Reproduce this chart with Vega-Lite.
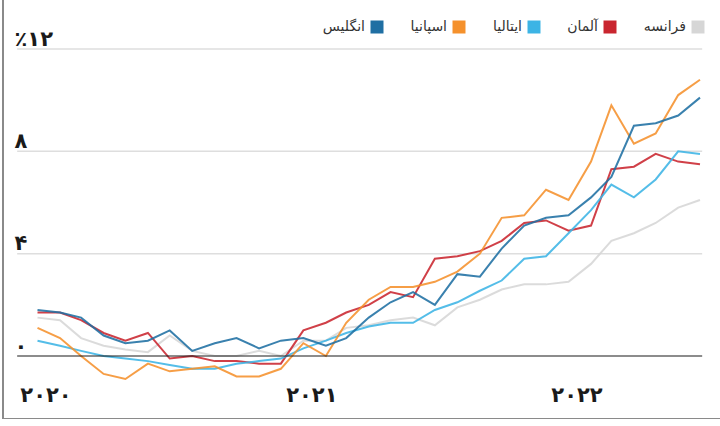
{
  "$schema": "https://vega.github.io/schema/vega-lite/v6.json",
  "width": 719,
  "height": 421,
  "autosize": {"type": "none"},
  "padding": {"left": 3, "top": -2, "right": 0, "bottom": 0},
  "background": "white",
  "config": {
    "view": {"stroke": "#8a8a8a", "strokeWidth": 2},
    "font": "DejaVu Sans"
  },
  "datasets": {
    "grid": [{"v": 4}, {"v": 8}, {"v": 12}],
    "zero": [{"v": 0}],
    "cpi": [
      {"date": "2020-01-01", "country": "فرانسه", "value": 1.5},
      {"date": "2020-02-01", "country": "فرانسه", "value": 1.4},
      {"date": "2020-03-01", "country": "فرانسه", "value": 0.7},
      {"date": "2020-04-01", "country": "فرانسه", "value": 0.4},
      {"date": "2020-05-01", "country": "فرانسه", "value": 0.25},
      {"date": "2020-06-01", "country": "فرانسه", "value": 0.15},
      {"date": "2020-07-01", "country": "فرانسه", "value": 0.8},
      {"date": "2020-08-01", "country": "فرانسه", "value": 0.2},
      {"date": "2020-09-01", "country": "فرانسه", "value": 0.0},
      {"date": "2020-10-01", "country": "فرانسه", "value": 0.0},
      {"date": "2020-11-01", "country": "فرانسه", "value": 0.2},
      {"date": "2020-12-01", "country": "فرانسه", "value": 0.0},
      {"date": "2021-01-01", "country": "فرانسه", "value": 0.6},
      {"date": "2021-02-01", "country": "فرانسه", "value": 0.6},
      {"date": "2021-03-01", "country": "فرانسه", "value": 1.1},
      {"date": "2021-04-01", "country": "فرانسه", "value": 1.2},
      {"date": "2021-05-01", "country": "فرانسه", "value": 1.4},
      {"date": "2021-06-01", "country": "فرانسه", "value": 1.5},
      {"date": "2021-07-01", "country": "فرانسه", "value": 1.2},
      {"date": "2021-08-01", "country": "فرانسه", "value": 1.9},
      {"date": "2021-09-01", "country": "فرانسه", "value": 2.2},
      {"date": "2021-10-01", "country": "فرانسه", "value": 2.6},
      {"date": "2021-11-01", "country": "فرانسه", "value": 2.8},
      {"date": "2021-12-01", "country": "فرانسه", "value": 2.8},
      {"date": "2022-01-01", "country": "فرانسه", "value": 2.9},
      {"date": "2022-02-01", "country": "فرانسه", "value": 3.6},
      {"date": "2022-03-01", "country": "فرانسه", "value": 4.5},
      {"date": "2022-04-01", "country": "فرانسه", "value": 4.8},
      {"date": "2022-05-01", "country": "فرانسه", "value": 5.2},
      {"date": "2022-06-01", "country": "فرانسه", "value": 5.8},
      {"date": "2022-07-01", "country": "فرانسه", "value": 6.1},

      {"date": "2020-01-01", "country": "آلمان", "value": 1.7},
      {"date": "2020-02-01", "country": "آلمان", "value": 1.7},
      {"date": "2020-03-01", "country": "آلمان", "value": 1.4},
      {"date": "2020-04-01", "country": "آلمان", "value": 0.9},
      {"date": "2020-05-01", "country": "آلمان", "value": 0.6},
      {"date": "2020-06-01", "country": "آلمان", "value": 0.9},
      {"date": "2020-07-01", "country": "آلمان", "value": -0.1},
      {"date": "2020-08-01", "country": "آلمان", "value": 0.0},
      {"date": "2020-09-01", "country": "آلمان", "value": -0.2},
      {"date": "2020-10-01", "country": "آلمان", "value": -0.2},
      {"date": "2020-11-01", "country": "آلمان", "value": -0.3},
      {"date": "2020-12-01", "country": "آلمان", "value": -0.3},
      {"date": "2021-01-01", "country": "آلمان", "value": 1.0},
      {"date": "2021-02-01", "country": "آلمان", "value": 1.3},
      {"date": "2021-03-01", "country": "آلمان", "value": 1.7},
      {"date": "2021-04-01", "country": "آلمان", "value": 2.0},
      {"date": "2021-05-01", "country": "آلمان", "value": 2.5},
      {"date": "2021-06-01", "country": "آلمان", "value": 2.3},
      {"date": "2021-07-01", "country": "آلمان", "value": 3.8},
      {"date": "2021-08-01", "country": "آلمان", "value": 3.9},
      {"date": "2021-09-01", "country": "آلمان", "value": 4.1},
      {"date": "2021-10-01", "country": "آلمان", "value": 4.5},
      {"date": "2021-11-01", "country": "آلمان", "value": 5.2},
      {"date": "2021-12-01", "country": "آلمان", "value": 5.3},
      {"date": "2022-01-01", "country": "آلمان", "value": 4.9},
      {"date": "2022-02-01", "country": "آلمان", "value": 5.1},
      {"date": "2022-03-01", "country": "آلمان", "value": 7.3},
      {"date": "2022-04-01", "country": "آلمان", "value": 7.4},
      {"date": "2022-05-01", "country": "آلمان", "value": 7.9},
      {"date": "2022-06-01", "country": "آلمان", "value": 7.6},
      {"date": "2022-07-01", "country": "آلمان", "value": 7.5},

      {"date": "2020-01-01", "country": "ایتالیا", "value": 0.6},
      {"date": "2020-02-01", "country": "ایتالیا", "value": 0.4},
      {"date": "2020-03-01", "country": "ایتالیا", "value": 0.2},
      {"date": "2020-04-01", "country": "ایتالیا", "value": 0.0},
      {"date": "2020-05-01", "country": "ایتالیا", "value": -0.1},
      {"date": "2020-06-01", "country": "ایتالیا", "value": -0.2},
      {"date": "2020-07-01", "country": "ایتالیا", "value": -0.35},
      {"date": "2020-08-01", "country": "ایتالیا", "value": -0.5},
      {"date": "2020-09-01", "country": "ایتالیا", "value": -0.5},
      {"date": "2020-10-01", "country": "ایتالیا", "value": -0.3},
      {"date": "2020-11-01", "country": "ایتالیا", "value": -0.2},
      {"date": "2020-12-01", "country": "ایتالیا", "value": -0.1},
      {"date": "2021-01-01", "country": "ایتالیا", "value": 0.3},
      {"date": "2021-02-01", "country": "ایتالیا", "value": 0.6},
      {"date": "2021-03-01", "country": "ایتالیا", "value": 0.9},
      {"date": "2021-04-01", "country": "ایتالیا", "value": 1.15},
      {"date": "2021-05-01", "country": "ایتالیا", "value": 1.3},
      {"date": "2021-06-01", "country": "ایتالیا", "value": 1.3},
      {"date": "2021-07-01", "country": "ایتالیا", "value": 1.8},
      {"date": "2021-08-01", "country": "ایتالیا", "value": 2.1},
      {"date": "2021-09-01", "country": "ایتالیا", "value": 2.55},
      {"date": "2021-10-01", "country": "ایتالیا", "value": 2.95},
      {"date": "2021-11-01", "country": "ایتالیا", "value": 3.8},
      {"date": "2021-12-01", "country": "ایتالیا", "value": 3.9},
      {"date": "2022-01-01", "country": "ایتالیا", "value": 4.8},
      {"date": "2022-02-01", "country": "ایتالیا", "value": 5.7},
      {"date": "2022-03-01", "country": "ایتالیا", "value": 6.7},
      {"date": "2022-04-01", "country": "ایتالیا", "value": 6.2},
      {"date": "2022-05-01", "country": "ایتالیا", "value": 6.9},
      {"date": "2022-06-01", "country": "ایتالیا", "value": 8.0},
      {"date": "2022-07-01", "country": "ایتالیا", "value": 7.9},

      {"date": "2020-01-01", "country": "اسپانیا", "value": 1.1},
      {"date": "2020-02-01", "country": "اسپانیا", "value": 0.7},
      {"date": "2020-03-01", "country": "اسپانیا", "value": 0.0},
      {"date": "2020-04-01", "country": "اسپانیا", "value": -0.7},
      {"date": "2020-05-01", "country": "اسپانیا", "value": -0.9},
      {"date": "2020-06-01", "country": "اسپانیا", "value": -0.3},
      {"date": "2020-07-01", "country": "اسپانیا", "value": -0.6},
      {"date": "2020-08-01", "country": "اسپانیا", "value": -0.5},
      {"date": "2020-09-01", "country": "اسپانیا", "value": -0.4},
      {"date": "2020-10-01", "country": "اسپانیا", "value": -0.8},
      {"date": "2020-11-01", "country": "اسپانیا", "value": -0.8},
      {"date": "2020-12-01", "country": "اسپانیا", "value": -0.5},
      {"date": "2021-01-01", "country": "اسپانیا", "value": 0.5},
      {"date": "2021-02-01", "country": "اسپانیا", "value": 0.0},
      {"date": "2021-03-01", "country": "اسپانیا", "value": 1.3},
      {"date": "2021-04-01", "country": "اسپانیا", "value": 2.2},
      {"date": "2021-05-01", "country": "اسپانیا", "value": 2.7},
      {"date": "2021-06-01", "country": "اسپانیا", "value": 2.7},
      {"date": "2021-07-01", "country": "اسپانیا", "value": 2.9},
      {"date": "2021-08-01", "country": "اسپانیا", "value": 3.3},
      {"date": "2021-09-01", "country": "اسپانیا", "value": 4.0},
      {"date": "2021-10-01", "country": "اسپانیا", "value": 5.4},
      {"date": "2021-11-01", "country": "اسپانیا", "value": 5.5},
      {"date": "2021-12-01", "country": "اسپانیا", "value": 6.5},
      {"date": "2022-01-01", "country": "اسپانیا", "value": 6.1},
      {"date": "2022-02-01", "country": "اسپانیا", "value": 7.6},
      {"date": "2022-03-01", "country": "اسپانیا", "value": 9.8},
      {"date": "2022-04-01", "country": "اسپانیا", "value": 8.3},
      {"date": "2022-05-01", "country": "اسپانیا", "value": 8.7},
      {"date": "2022-06-01", "country": "اسپانیا", "value": 10.2},
      {"date": "2022-07-01", "country": "اسپانیا", "value": 10.8},

      {"date": "2020-01-01", "country": "انگلیس", "value": 1.8},
      {"date": "2020-02-01", "country": "انگلیس", "value": 1.7},
      {"date": "2020-03-01", "country": "انگلیس", "value": 1.5},
      {"date": "2020-04-01", "country": "انگلیس", "value": 0.8},
      {"date": "2020-05-01", "country": "انگلیس", "value": 0.5},
      {"date": "2020-06-01", "country": "انگلیس", "value": 0.6},
      {"date": "2020-07-01", "country": "انگلیس", "value": 1.0},
      {"date": "2020-08-01", "country": "انگلیس", "value": 0.2},
      {"date": "2020-09-01", "country": "انگلیس", "value": 0.5},
      {"date": "2020-10-01", "country": "انگلیس", "value": 0.7},
      {"date": "2020-11-01", "country": "انگلیس", "value": 0.3},
      {"date": "2020-12-01", "country": "انگلیس", "value": 0.6},
      {"date": "2021-01-01", "country": "انگلیس", "value": 0.7},
      {"date": "2021-02-01", "country": "انگلیس", "value": 0.4},
      {"date": "2021-03-01", "country": "انگلیس", "value": 0.7},
      {"date": "2021-04-01", "country": "انگلیس", "value": 1.5},
      {"date": "2021-05-01", "country": "انگلیس", "value": 2.1},
      {"date": "2021-06-01", "country": "انگلیس", "value": 2.5},
      {"date": "2021-07-01", "country": "انگلیس", "value": 2.0},
      {"date": "2021-08-01", "country": "انگلیس", "value": 3.2},
      {"date": "2021-09-01", "country": "انگلیس", "value": 3.1},
      {"date": "2021-10-01", "country": "انگلیس", "value": 4.2},
      {"date": "2021-11-01", "country": "انگلیس", "value": 5.1},
      {"date": "2021-12-01", "country": "انگلیس", "value": 5.4},
      {"date": "2022-01-01", "country": "انگلیس", "value": 5.5},
      {"date": "2022-02-01", "country": "انگلیس", "value": 6.2},
      {"date": "2022-03-01", "country": "انگلیس", "value": 7.0},
      {"date": "2022-04-01", "country": "انگلیس", "value": 9.0},
      {"date": "2022-05-01", "country": "انگلیس", "value": 9.1},
      {"date": "2022-06-01", "country": "انگلیس", "value": 9.4},
      {"date": "2022-07-01", "country": "انگلیس", "value": 10.1}
    ]
  },
  "layer": [
    {
      "data": {"name": "grid"},
      "mark": {"type": "rule", "color": "#dedede", "strokeWidth": 1.5},
      "encoding": {
        "y": {"field": "v", "type": "quantitative"},
        "x": {"datum": {"year": 2019, "month": 12, "date": 4, "utc": true}, "type": "temporal"},
        "x2": {"datum": {"year": 2022, "month": 7, "date": 4, "utc": true}}
      }
    },
    {
      "data": {"name": "cpi"},
      "mark": {"type": "line", "strokeWidth": 2, "opacity": 0.88},
      "encoding": {
        "x": {
          "field": "date",
          "type": "temporal",
          "scale": {
            "type": "utc",
            "domain": [
              {"year": 2019, "month": 11, "date": 14, "hours": 12, "utc": true},
              {"year": 2022, "month": 7, "date": 31, "hours": 7, "utc": true}
            ]
          },
          "axis": {
            "title": null,
            "grid": false,
            "domain": false,
            "ticks": false,
            "tickSize": 0,
            "values": [
              {"year": 2020, "month": 1, "date": 1, "utc": true},
              {"year": 2021, "month": 1, "date": 1, "utc": true},
              {"year": 2022, "month": 1, "date": 1, "utc": true}
            ],
            "labelExpr": "utcyear(datum.value) == 2020 ? '۲۰۲۰' : utcyear(datum.value) == 2021 ? '۲۰۲۱' : '۲۰۲۲'",
            "labelFont": "DejaVu Sans",
            "labelFontWeight": "bold",
            "labelFontSize": 21,
            "labelColor": "#1a1a1a",
            "labelAlign": "center",
            "labelBaseline": "alphabetic",
            "labelPadding": -18,
            "labelOffset": 8,
            "labelFlush": false,
            "labelOverlap": false
          }
        },
        "y": {
          "field": "value",
          "type": "quantitative",
          "scale": {"domain": [-2.4626, 13.994], "nice": false, "zero": false},
          "axis": {
            "title": null,
            "grid": false,
            "domain": false,
            "ticks": false,
            "tickSize": 0,
            "values": [0, 4, 8, 12],
            "labelExpr": "datum.value == 12 ? '٪۱۲' : datum.value == 8 ? '۸' : datum.value == 4 ? '۴' : '۰'",
            "labelFont": "DejaVu Sans",
            "labelFontWeight": "bold",
            "labelFontSize": 21,
            "labelColor": "#1a1a1a",
            "labelAlign": "left",
            "labelBaseline": "alphabetic",
            "labelPadding": -11,
            "labelOffset": -4,
            "labelFlush": false,
            "labelOverlap": false
          }
        },
        "color": {
          "field": "country",
          "type": "nominal",
          "scale": {
            "domain": ["انگلیس", "اسپانیا", "ایتالیا", "آلمان", "فرانسه"],
            "range": ["#1f6fa3", "#f5912c", "#3cb4e5", "#c9252f", "#d6d6d6"]
          },
          "legend": {
            "title": null,
            "orient": "none",
            "direction": "horizontal",
            "legendX": 367,
            "legendY": 22,
            "symbolType": "square",
            "symbolSize": 36,
            "symbolStrokeWidth": 7,
            "symbolOpacity": 1,
            "labelFont": "DejaVu Sans",
            "labelFontSize": 14,
            "labelColor": "#333333",
            "labelAlign": "right",
            "labelOffset": -19,
            "columnPadding": 16,
            "labelLimit": 200
          }
        }
      }
    },
    {
      "data": {"name": "zero"},
      "mark": {"type": "rule", "color": "#1a1a1a", "strokeWidth": 1.2},
      "encoding": {
        "y": {"field": "v", "type": "quantitative"},
        "x": {"datum": {"year": 2019, "month": 12, "date": 4, "utc": true}, "type": "temporal"},
        "x2": {"datum": {"year": 2022, "month": 7, "date": 4, "utc": true}}
      }
    }
  ]
}
